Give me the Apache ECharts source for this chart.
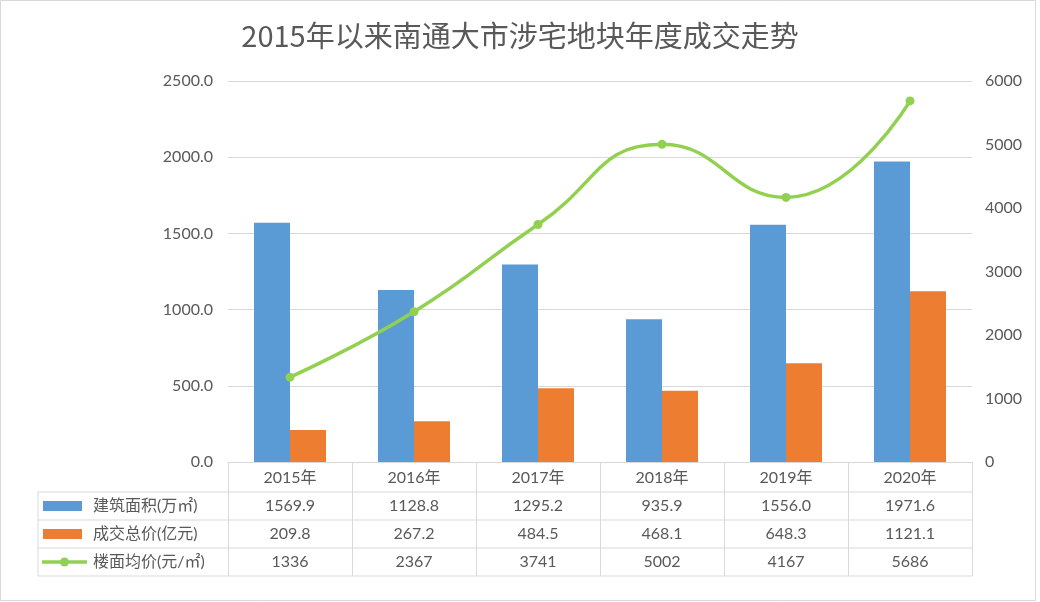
<!DOCTYPE html>
<html><head><meta charset="utf-8">
<script src="https://cdn.jsdelivr.net/npm/echarts@6/dist/echarts.min.js"></script>
<style>html,body{margin:0;padding:0;background:#fff}#c{width:1040px;height:602px}</style>
</head><body><div id="c"></div>
<script>
const title = '2015年以来南通大市涉宅地块年度成交走势';
const categories = ['2015年','2016年','2017年','2018年','2019年','2020年'];
const seriesNames = ['建筑面积(万㎡)','成交总价(亿元)','楼面均价(元/㎡)'];
const area = [1569.9,1128.8,1295.2,935.9,1556.0,1971.6];
const total = [209.8,267.2,484.5,468.1,648.3,1121.1];
const price = [1336,2367,3741,5002,4167,5686];
const colors = ['#5B9BD5','#ED7D31','#92D050'];
const FONT = 'Lato, "Noto Sans CJK SC", sans-serif';
const TXT = '#595959';

const G = {left:228, right:68, top:81, bottom:140};
const chart = echarts.init(document.getElementById('c'));
chart.setOption({
  animation:false,
  backgroundColor:'#fff',
  title:{text:title,left:'center',top:16,textStyle:{fontFamily:'"Noto Sans CJK SC", sans-serif',fontSize:29,fontWeight:'normal',color:TXT}},
  grid:{left:G.left,right:G.right,top:G.top,bottom:G.bottom},
  xAxis:{type:'category',data:categories,
    axisLine:{show:true,lineStyle:{color:'#d9d9d9',width:1}},
    axisTick:{show:true,length:114,lineStyle:{color:'#d9d9d9',width:1}},
    axisLabel:{color:TXT,fontFamily:FONT,fontSize:16,margin:8}},
  yAxis:[
    {type:'value',min:0,max:2500,interval:500,
     axisLabel:{formatter:v=>v.toFixed(1),color:TXT,fontFamily:FONT,fontSize:16,margin:15},
     axisLine:{show:false},axisTick:{show:false},
     splitLine:{lineStyle:{color:'#d9d9d9',width:1}}},
    {type:'value',min:0,max:6000,interval:1000,
     axisLabel:{formatter:v=>String(v),color:TXT,fontFamily:FONT,fontSize:16,margin:13},
     axisLine:{show:false},axisTick:{show:false},splitLine:{show:false}}
  ],
  series:[
    {name:seriesNames[0],type:'bar',data:area,barWidth:36,barGap:'0%',itemStyle:{color:colors[0]}},
    {name:seriesNames[1],type:'bar',data:total,barWidth:36,barGap:'0%',itemStyle:{color:colors[1]}},
    {name:seriesNames[2],type:'line',yAxisIndex:1,data:price,smooth:0.5,symbol:'circle',symbolSize:9,
     lineStyle:{color:colors[2],width:3.5},itemStyle:{color:colors[2]}}
  ]
});

// data table below the plot
const x0 = chart.convertToPixel({xAxisIndex:0},0);
const step = chart.convertToPixel({xAxisIndex:0},1) - x0;
const plotL = x0 - step/2, plotR = plotL + step*categories.length;
const yBase = chart.convertToPixel({yAxisIndex:0},0);
const rowTop = yBase + 30, rowH = 28, tabL = 38;
const rows = [area.map(v=>v.toFixed(1)), total.map(v=>v.toFixed(1)), price.map(v=>String(v))];
const g = [];
const lineStyle = {stroke:'#d9d9d9',lineWidth:1};
for (let r=0;r<=3;r++){
  g.push({type:'line',shape:{x1:tabL,y1:rowTop+r*rowH,x2:plotR,y2:rowTop+r*rowH},style:lineStyle,silent:true});
}
g.push({type:'line',shape:{x1:tabL,y1:rowTop,x2:tabL,y2:rowTop+3*rowH},style:lineStyle});
rows.forEach((vals,r)=>{
  const cy = rowTop + r*rowH + rowH/2;
  vals.forEach((t,i)=>{
    g.push({type:'text',x:x0+i*step,y:cy,style:{text:t,fill:TXT,font:'16px '+FONT,align:'center',verticalAlign:'middle'}});
  });
  g.push({type:'text',x:93,y:cy,style:{text:seriesNames[r],fill:TXT,font:'16px '+FONT,align:'left',verticalAlign:'middle'}});
  if (r<2) g.push({type:'rect',shape:{x:43,y:cy-5,width:39,height:10},style:{fill:colors[r]}});
  else {
    g.push({type:'line',shape:{x1:42,y1:cy,x2:87,y2:cy},style:{stroke:colors[2],lineWidth:3.5}});
    g.push({type:'circle',shape:{cx:64.5,cy:cy,r:4.5},style:{fill:colors[2]}});
  }
});
g.push({type:'rect',shape:{x:0.5,y:0.5,width:1035,height:600},style:{fill:null,stroke:'#d9d9d9',lineWidth:1}});
chart.setOption({graphic:g});
</script></body></html>
